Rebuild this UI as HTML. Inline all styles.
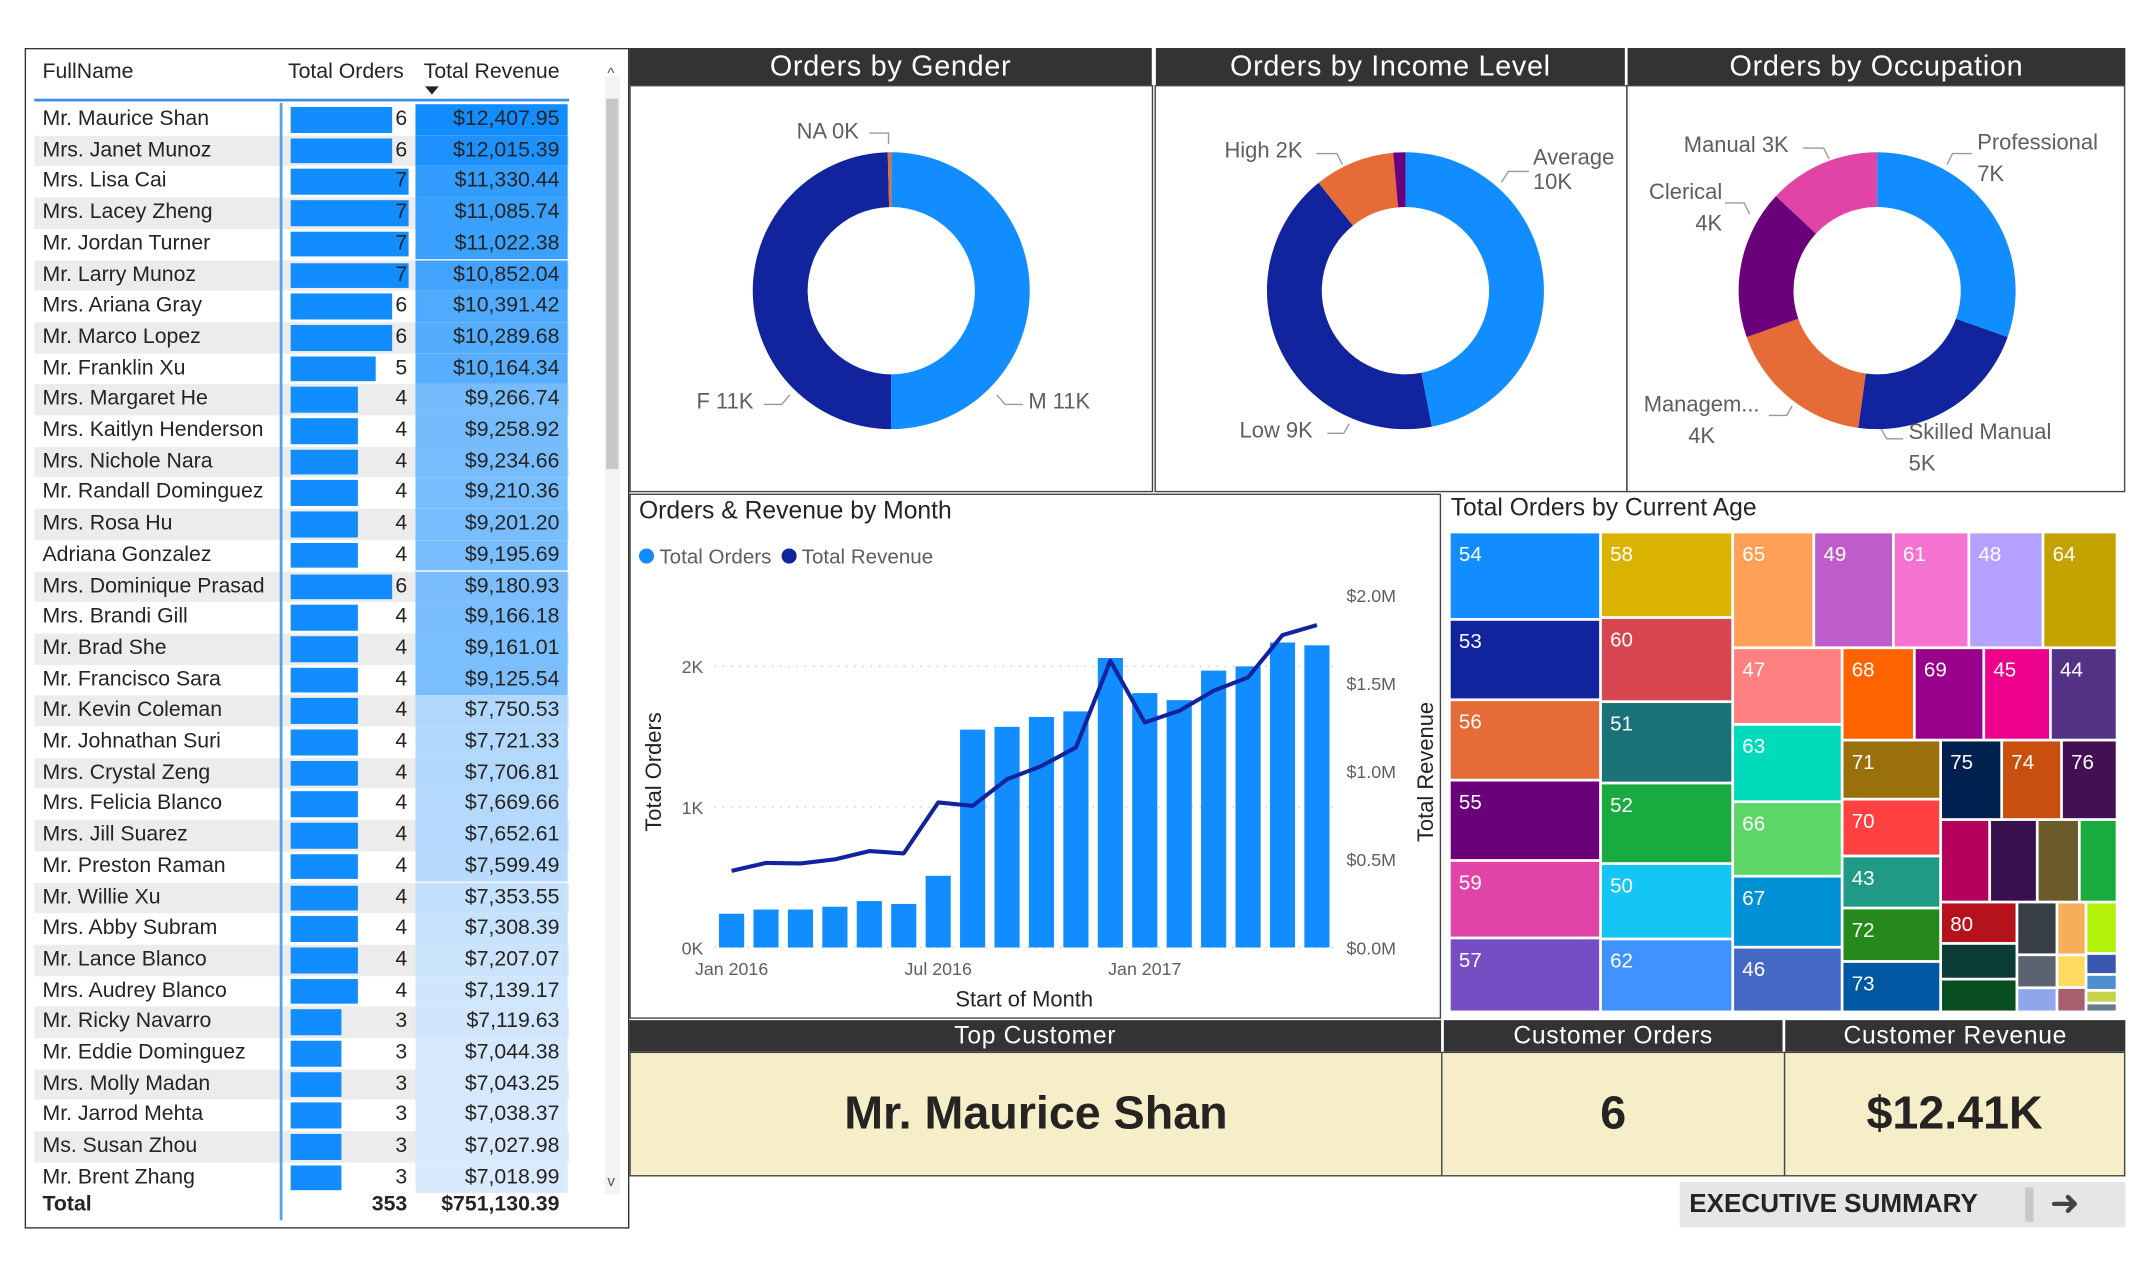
<!DOCTYPE html>
<html><head><meta charset="utf-8">
<style>
html,body{margin:0;padding:0;background:#fff;overflow:hidden}
body{width:2150px;height:1275px;position:relative}
#root{position:absolute;left:0;top:0;width:1568px;height:930px;transform:scale(1.37117);transform-origin:0 0;font-family:"Liberation Sans",sans-serif;color:#252423}
.abs{position:absolute}
.hdr{position:absolute;background:#333;color:#fff;font-size:21px;text-align:center;line-height:27px;letter-spacing:0.5px}
.panel{position:absolute;border:1px solid #444;box-sizing:border-box}
.row{position:absolute;left:25px;width:390px;height:22.7px;font-size:15.5px;line-height:22.7px}
.lbl{position:absolute;font-size:16px;color:#605e5c;white-space:nowrap}
.card{position:absolute;background:#F5EEC8;border:1px solid #444;box-sizing:border-box;text-align:center;font-weight:bold;font-size:34px;line-height:88px;color:#252423}
</style></head><body>
<div id="root">

<!-- Table -->
<div class="panel" style="left:18px;top:35px;width:441px;height:861px;border-color:#333"></div>
<div class="abs" style="left:31px;top:44px;font-size:15.5px">FullName</div>
<div class="abs" style="left:210px;top:44px;font-size:15.5px">Total Orders</div>
<div class="abs" style="left:309px;top:44px;font-size:15.5px">Total Revenue</div>
<div class="abs" style="left:310px;top:63px;width:0;height:0;border-left:5px solid transparent;border-right:5px solid transparent;border-top:6px solid #252423"></div>
<div class="abs" style="left:25px;top:72px;width:390px;height:2px;background:#3a8ee6"></div>
<div class="abs" style="left:441px;top:56px;width:11px;height:815px;background:#f3f3f3"></div>
<div class="abs" style="left:442px;top:72px;width:9px;height:270px;background:#c8c8c8"></div>
<div class="abs" style="left:443px;top:48px;font-size:11px;color:#555">^</div>
<div class="abs" style="left:443px;top:856px;font-size:11px;color:#555">v</div>
<div id="rows"></div>
<div class="abs" style="left:204px;top:75px;width:2px;height:815px;background:#5aa0e8"></div>
<div class="abs" style="left:31px;top:870px;font-size:15.5px;font-weight:bold">Total</div>
<div class="abs" style="left:230px;width:67px;text-align:right;top:870px;font-size:15.5px;font-weight:bold">353</div>
<div class="abs" style="left:300px;width:108px;text-align:right;top:870px;font-size:15.5px;font-weight:bold">$751,130.39</div>

<!-- Donut headers -->
<div class="hdr" style="left:459px;top:35px;width:381px">Orders by Gender</div>
<div class="hdr" style="left:843px;top:35px;width:342px">Orders by Income Level</div>
<div class="hdr" style="left:1187px;top:35px;width:363px">Orders by Occupation</div>
<div class="panel" style="left:459px;top:62px;width:382px;height:297px"></div>
<div class="panel" style="left:842px;top:62px;width:345px;height:297px"></div>
<div class="panel" style="left:1186px;top:62px;width:364px;height:297px"></div>
<svg id="donuts" class="abs" style="left:0;top:0" width="1568" height="930"></svg>

<div class="lbl" style="left:581px;top:88px">NA 0K</div>
<div class="lbl" style="left:508px;top:285px">F 11K</div>
<div class="lbl" style="left:750px;top:285px">M 11K</div>
<div class="lbl" style="left:893px;top:102px">High 2K</div>
<div class="lbl" style="left:1118px;top:107px">Average<br>10K</div>
<div class="lbl" style="left:904px;top:306px">Low 9K</div>
<div class="lbl" style="left:1228px;top:98px">Manual 3K</div>
<div class="lbl" style="left:1442px;top:93px;line-height:23px">Professional<br>7K</div>
<div class="lbl" style="left:1200px;top:129px;line-height:23px;text-align:right;width:56px">Clerical<br>4K</div>
<div class="lbl" style="left:1195px;top:284px;line-height:23px;text-align:center;width:92px">Managem...<br>4K</div>
<div class="lbl" style="left:1392px;top:304px;line-height:23px">Skilled Manual<br>5K</div>

<!-- Combo chart -->
<div class="panel" style="left:459px;top:360px;width:592px;height:383px"></div>
<div class="abs" style="left:466px;top:362px;font-size:18px">Orders &amp; Revenue by Month</div>
<div class="abs" style="left:466px;top:398px;font-size:15px;color:#605e5c">
<span><span style="display:inline-block;width:11px;height:11px;border-radius:50%;background:#118DFF"></span> Total Orders</span>
<span><span style="display:inline-block;width:11px;height:11px;border-radius:50%;background:#12239E;margin-left:3px"></span> Total Revenue</span></div>
<svg id="combo" class="abs" style="left:0;top:0" width="1568" height="930"></svg>

<!-- Treemap -->
<div class="panel" style="left:1051px;top:360px;width:499px;height:383px;border:none"></div>
<div class="abs" style="left:1058px;top:360px;font-size:18px">Total Orders by Current Age</div>
<svg id="tree" class="abs" style="left:0;top:0" width="1568" height="930"></svg>

<!-- Cards -->
<div class="hdr" style="left:459px;top:744px;width:592px;height:23px;line-height:23px;font-size:18px">Top Customer</div>
<div class="hdr" style="left:1053px;top:744px;width:247px;height:23px;line-height:23px;font-size:18px">Customer Orders</div>
<div class="hdr" style="left:1302px;top:744px;width:248px;height:23px;line-height:23px;font-size:18px">Customer Revenue</div>
<div class="card" style="left:459px;top:767px;width:593px;height:91px">Mr. Maurice Shan</div>
<div class="card" style="left:1051px;top:767px;width:251px;height:91px">6</div>
<div class="card" style="left:1301px;top:767px;width:249px;height:91px">$12.41K</div>
<div class="abs" style="left:1225px;top:862px;width:325px;height:33px;background:#e6e6e6;font-weight:bold;font-size:19px;line-height:33px">
<span style="margin-left:7px">EXECUTIVE SUMMARY</span>
<span style="position:absolute;left:252px;top:4px;width:6px;height:25px;background:#c8c8c8"></span>
<span style="position:absolute;left:270px;top:-1px;font-size:26px;font-weight:normal;color:#444">&#10140;</span></div>
</div>

<script>
// ---------- Table data ----------
const names=["Mr. Maurice Shan","Mrs. Janet Munoz","Mrs. Lisa Cai","Mrs. Lacey Zheng","Mr. Jordan Turner","Mr. Larry Munoz","Mrs. Ariana Gray","Mr. Marco Lopez","Mr. Franklin Xu","Mrs. Margaret He","Mrs. Kaitlyn Henderson","Mrs. Nichole Nara","Mr. Randall Dominguez","Mrs. Rosa Hu","Adriana Gonzalez","Mrs. Dominique Prasad","Mrs. Brandi Gill","Mr. Brad She","Mr. Francisco Sara","Mr. Kevin Coleman","Mr. Johnathan Suri","Mrs. Crystal Zeng","Mrs. Felicia Blanco","Mrs. Jill Suarez","Mr. Preston Raman","Mr. Willie Xu","Mrs. Abby Subram","Mr. Lance Blanco","Mrs. Audrey Blanco","Mr. Ricky Navarro","Mr. Eddie Dominguez","Mrs. Molly Madan","Mr. Jarrod Mehta","Ms. Susan Zhou","Mr. Brent Zhang"];
const orders=[6,6,7,7,7,7,6,6,5,4,4,4,4,4,4,6,4,4,4,4,4,4,4,4,4,4,4,4,4,3,3,3,3,3,3];
const revenue=[12407.95,12015.39,11330.44,11085.74,11022.38,10852.04,10391.42,10289.68,10164.34,9266.74,9258.92,9234.66,9210.36,9201.20,9195.69,9180.93,9166.18,9161.01,9125.54,7750.53,7721.33,7706.81,7669.66,7652.61,7599.49,7353.55,7308.39,7207.07,7139.17,7119.63,7044.38,7043.25,7038.37,7027.98,7018.99];

const rowsEl=document.getElementById('rows');
const rmax=Math.max(...revenue), rmin=Math.min(...revenue);
function mix(a,b,t){return 'rgb('+a.map((v,i)=>Math.round(v+(b[i]-v)*t)).join(',')+')';}
names.forEach((n,i)=>{
  const y=76+i*22.7;
  const r=document.createElement('div');
  r.className='row';
  
  
  r.style.top=y+'px';
  r.style.background=(i%2)?'#ececec':'#fff';
  const t=(revenue[i]-rmin)/(rmax-rmin);
  const col=mix([217,234,252],[17,141,255],Math.pow(t,0.8));
  r.innerHTML='<span style="position:absolute;left:6px">'+n+'</span>'+
   '<span style="position:absolute;left:187px;top:2px;height:18.7px;width:'+(orders[i]*12.3)+'px;background:#118DFF"></span>'+
   '<span style="position:absolute;left:200px;width:72px;text-align:right">'+orders[i]+'</span>'+
   '<span style="position:absolute;left:278px;width:111px;height:22.7px;background:'+col+'"></span>'+
   '<span style="position:absolute;left:278px;width:105px;text-align:right">$'+revenue[i].toLocaleString('en-US',{minimumFractionDigits:2})+'</span>';
  rowsEl.appendChild(r);
});

// ---------- Donuts ----------
const genderCats=["M","F","NA"];
const genderVals=[11000,10900,90];
const incomeCats=["Average","Low","High","VeryHigh"];
const incomeVals=[10000,9000,2000,300];
const occCats=["Professional","Skilled Manual","Management","Clerical","Manual"];
const occVals=[7000,5000,4000,4000,3000];
const NS='http://www.w3.org/2000/svg';
const donuts=document.getElementById('donuts');
function arc(cx,cy,R,r,a0,a1){
  const p=(a,rr)=>[cx+rr*Math.sin(a),cy-rr*Math.cos(a)];
  const l=(a1-a0)>Math.PI?1:0;
  const [x0,y0]=p(a0,R),[x1,y1]=p(a1,R),[x2,y2]=p(a1,r),[x3,y3]=p(a0,r);
  return `M${x0},${y0}A${R},${R} 0 ${l} 1 ${x1},${y1}L${x2},${y2}A${r},${r} 0 ${l} 0 ${x3},${y3}Z`;
}
function donut(cx,cy,cats,vals,cols,name){
  const tot=vals.reduce((a,b)=>a+b,0);let a=0;
  vals.forEach((v,i)=>{
    const a1=a+v/tot*2*Math.PI;
    const p=document.createElementNS(NS,'path');
    p.setAttribute('d',arc(cx,cy,101,61,a,a1));
    p.setAttribute('fill',cols[i]);
    
    
    donuts.appendChild(p);a=a1;
  });
}
donut(650,212,genderCats,genderVals,['#118DFF','#12239E','#E66C37'],'gender');
donut(1025,212,incomeCats,incomeVals,['#118DFF','#12239E','#E66C37','#6B007B'],'income');
donut(1369,212,occCats,occVals,['#118DFF','#12239E','#E66C37','#6B007B','#E044A7'],'occupation');
// leader lines
[[634,97,648,97,648,105],[557,295,570,295,576,288],[746,295,733,295,727,288],[960,112,975,112,979,120],[1115,125,1100,125,1095,133],[968,316,980,316,984,309],[1315,108,1330,108,1334,116],[1438,112,1424,112,1420,120],[1258,148,1272,148,1276,156],[1290,303,1303,303,1307,296],[1388,320,1376,320,1372,313]].forEach(L=>{
  const pl=document.createElementNS(NS,'polyline');
  pl.setAttribute('points',`${L[0]},${L[1]} ${L[2]},${L[3]} ${L[4]},${L[5]}`);
  pl.setAttribute('fill','none');pl.setAttribute('stroke','#999');pl.setAttribute('stroke-width','1');
  
  
  donuts.appendChild(pl);
});

// ---------- Combo chart ----------
const months=["Jan 2016","Feb 2016","Mar 2016","Apr 2016","May 2016","Jun 2016","Jul 2016","Aug 2016","Sep 2016","Oct 2016","Nov 2016","Dec 2016","Jan 2017","Feb 2017","Mar 2017","Apr 2017","May 2017","Jun 2017"];
const orderVals=[240,270,270,290,330,310,510,1550,1570,1640,1680,2060,1810,1760,1970,2000,2170,2150];
const revVals=[435000,480000,477000,500000,547000,534000,823000,804000,955000,1030000,1135000,1627000,1277000,1343000,1457000,1533000,1773000,1830000];
const leftTicks=[0,1000,2000];
const leftTickLabels=["0K","1K","2K"];
const rightTicks=[0,500000,1000000,1500000,2000000];
const rightTickLabels=["$0.0M","$0.5M","$1.0M","$1.5M","$2.0M"];
const xTickIdx=[0,6,12];
const xTickLabels=["Jan 2016","Jul 2016","Jan 2017"];

const combo=document.getElementById('combo');
const PL=521,PR=973,PB=691;
const step=(PR-PL)/months.length;
const xC=i=>PL+step*(i+0.5);
const yL=v=>PB-v*(205/2000);
const yR=v=>PB-v*(257/2000000);
function el(tag,attrs,txt){const e=document.createElementNS(NS,tag);for(const k in attrs)e.setAttribute(k,attrs[k]);if(txt!==undefined)e.textContent=txt;combo.appendChild(e);return e;}
leftTicks.forEach((v,i)=>{
  const g=el('line',{x1:PL,x2:PR,y1:yL(v),y2:yL(v),stroke:'#c8c8c8','stroke-dasharray':'1 5'});
  
  
  const t=el('text',{x:513,y:yL(v)+5,'text-anchor':'end','font-size':13,fill:'#605e5c','font-family':'Liberation Sans'},leftTickLabels[i]);
  
  
});
rightTicks.forEach((v,i)=>{
  const t=el('text',{x:982,y:yR(v)+5,'font-size':13,fill:'#605e5c','font-family':'Liberation Sans'},rightTickLabels[i]);
  
  
});
orderVals.forEach((v,i)=>{
  const bw=step*0.73;
  const r=el('rect',{x:xC(i)-bw/2,y:yL(v),width:bw,height:PB-yL(v),fill:'#118DFF'});
  
  
});
const ln=el('polyline',{points:revVals.map((v,i)=>xC(i)+','+yR(v)).join(' '),fill:'none',stroke:'#12239E','stroke-width':3,'stroke-linejoin':'round'});


xTickIdx.forEach((ix,i)=>{
  const t=el('text',{x:xC(ix),y:711,'text-anchor':'middle','font-size':13,fill:'#605e5c','font-family':'Liberation Sans'},xTickLabels[i]);
  
  
});
let t1=el('text',{x:747,y:734,'text-anchor':'middle','font-size':16,fill:'#252423','font-family':'Liberation Sans'},'Start of Month');


let t2=el('text',{transform:'translate(482,563) rotate(-90)','text-anchor':'middle','font-size':16,fill:'#252423','font-family':'Liberation Sans'},'Total Orders');


let t3=el('text',{transform:'translate(1045,563) rotate(-90)','text-anchor':'middle','font-size':16,fill:'#252423','font-family':'Liberation Sans'},'Total Revenue');



// ---------- Treemap ----------
const col1Ages=["54","53","56","55","59","57"], col1Vals=[6700,6160,6160,6160,5940,5670];
const col2Ages=["58","60","51","52","50","62"], col2Vals=[5730,5640,5450,5400,5050,4890];
const topAges=["65","49","61","48","64"], topVals=[4760,4670,4430,4350,4350];
const c3Ages=["47","63","66","67","46"], c3Vals=[4250,4290,4130,3940,3590];
const r68Ages=["68","69","45","44"], r68Vals=[3380,3250,3120,3120];
const c71Ages=["71","70","43","72","73"], c71Vals=[2950,2840,2600,2670,2520];
const r75Ages=["75","74","76"], r75Vals=[2460,2410,2240];
const r4Ages=["79","77","78","42"], r4Vals=[2050,1990,1760,1580];
const s1Ages=["80","81","82"], s1Vals=[1600,1380,1270];
const s2Ages=["83","84","85"], s2Vals=[1070,670,490];
const s3Ages=["86","87","88"], s3Vals=[780,480,360];
const s4Ages=["89","90","91","92","93"], s4Vals=[810,330,250,200,140];
const ageColors={"54":"#118DFF","53":"#12239E","56":"#E66C37","55":"#6B007B","59":"#E044A7","57":"#744EC2","58":"#D9B300","60":"#D64550","51":"#197278","52":"#1AAB40","50":"#15C6F4","62":"#4092FF","65":"#FFA058","49":"#BE5DC9","61":"#F472D0","48":"#B5A1FF","64":"#C4A200","47":"#FF8080","63":"#00DBBC","66":"#5BD667","67":"#0091D5","46":"#4668C5","68":"#FF6300","69":"#99008A","45":"#EC008C","44":"#533285","71":"#99700A","70":"#FF4141","43":"#1F9A85","72":"#25891C","73":"#0057A2","75":"#002050","74":"#C94F0F","76":"#450F54","79":"#B6005E","77":"#38104E","78":"#6B5A2A","42":"#1AAB40","80":"#B5121B","81":"#0B3B37","82":"#0B4D22","83":"#373E47","84":"#5A6470","85":"#8FA6EA","86":"#F7AE5A","87":"#FDDB60","88":"#A86070","89":"#B1F10A","90":"#3A57B0","91":"#4E8FD0","92":"#C6D24A","93":"#6A7A90"};
const hiddenLabels=["79","77","78","42","81","82","83","84","85","86","87","88","89","90","91","92","93"];
function leaves(ages,vals){return ages.map((a,i)=>({age:a,v:vals[i]}));}
const treeRoot={d:'h',c:[
  {d:'v',c:leaves(col1Ages,col1Vals)},
  {d:'v',c:leaves(col2Ages,col2Vals)},
  {d:'v',c:[
    {d:'h',c:leaves(topAges,topVals)},
    {d:'h',c:[
      {d:'v',c:leaves(c3Ages,c3Vals)},
      {d:'v',c:[
        {d:'h',c:leaves(r68Ages,r68Vals)},
        {d:'h',c:[
          {d:'v',c:leaves(c71Ages,c71Vals)},
          {d:'v',c:[
            {d:'h',c:leaves(r75Ages,r75Vals)},
            {d:'h',c:leaves(r4Ages,r4Vals)},
            {d:'h',c:[{d:'v',c:leaves(s1Ages,s1Vals)},{d:'v',c:leaves(s2Ages,s2Vals)},{d:'v',c:leaves(s3Ages,s3Vals)},{d:'v',c:leaves(s4Ages,s4Vals)}]}
          ]}
        ]}
      ]}
    ]}
  ]}
]};
function sum(n){return n.c?n.c.reduce((a,b)=>a+sum(b),0):n.v;}
const tree=document.getElementById('tree');
function layout(n,x,y,w,h){
  if(!n.c){
    const r=document.createElementNS(NS,'rect');
    r.setAttribute('x',x+1);r.setAttribute('y',y+1);
    r.setAttribute('width',Math.max(0,w-2));r.setAttribute('height',Math.max(0,h-2));
    r.setAttribute('fill',ageColors[n.age]);
    
    
    tree.appendChild(r);
    if(hiddenLabels.indexOf(n.age)<0){
      const t=document.createElementNS(NS,'text');
      t.setAttribute('x',x+7);t.setAttribute('y',y+21);
      t.setAttribute('fill','#fff');t.setAttribute('font-size','15');
      t.setAttribute('font-family','Liberation Sans');
      t.textContent=n.age;
      
      
      tree.appendChild(t);
    }
    return;
  }
  const tot=sum(n);let off=0;
  n.c.forEach(ch=>{
    const f=sum(ch)/tot;
    if(n.d==='h'){layout(ch,x+off,y,w*f,h);off+=w*f;}
    else{layout(ch,x,y+off,w,h*f);off+=h*f;}
  });
}
layout(treeRoot,1057,388,487,350);
</script>
</body></html>
